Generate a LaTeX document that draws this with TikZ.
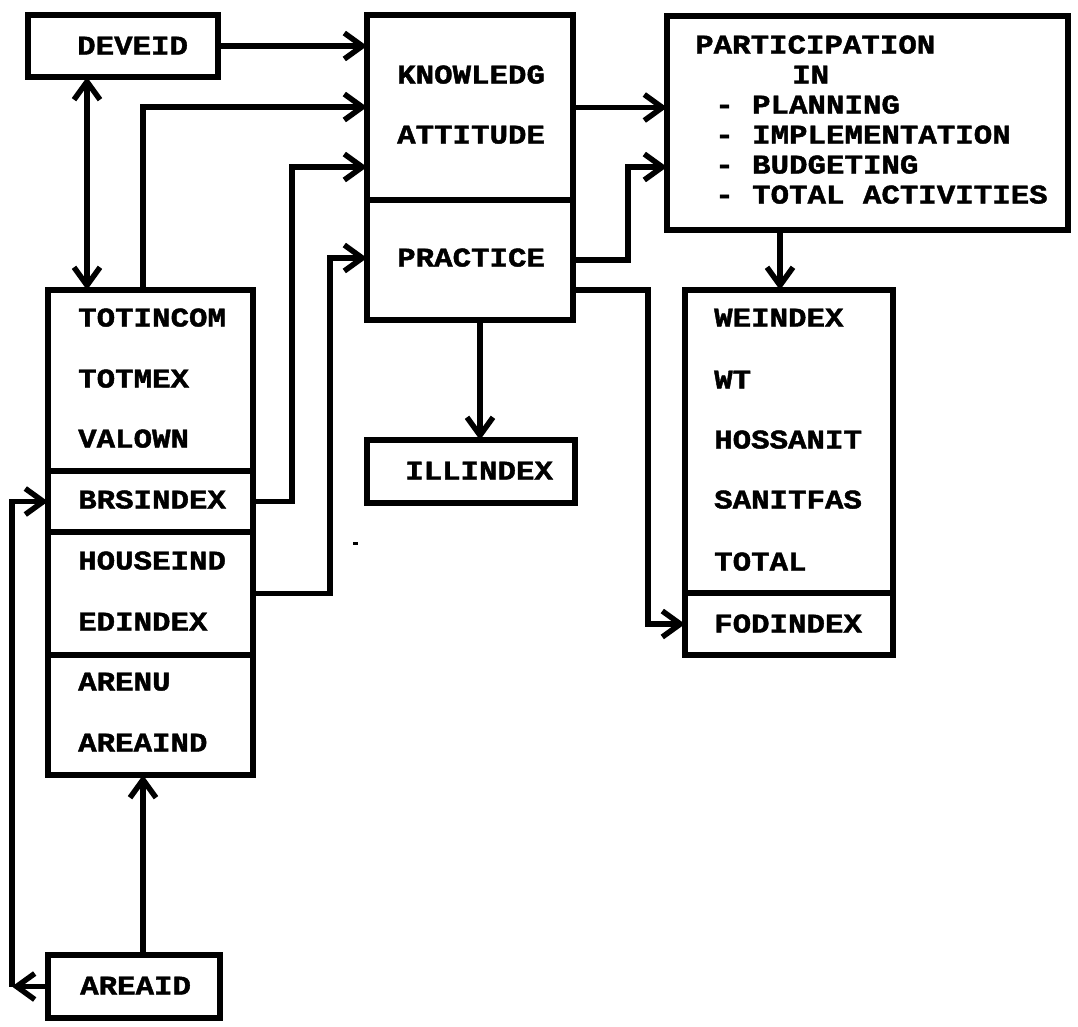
\documentclass[tikz,border=0pt]{standalone}
\usepackage{fontspec}
\newfontfamily\boxfont{Liberation Mono}[FakeStretch=1.14, FakeBold=1.6]
\usetikzlibrary{arrows.meta}
\begin{document}
\begin{tikzpicture}[x=1pt,y=-1pt,
  box/.style={draw, line width=6.5pt, rectangle, inner sep=0pt, outer sep=0pt, anchor=north west},
  lbl/.style={anchor=west, inner sep=0pt, text height=17pt, text depth=0pt,
              font=\boxfont\bfseries\fontsize{27}{30}\selectfont},
  barb/.tip={Straight Barb[length=18pt,width=26pt]},
  conn/.style={line width=5.5pt, line join=miter, -barb},
  biconn/.style={line width=5.5pt, barb-barb},
]
\fill[white] (0,0) rectangle (1078,1026);
\useasboundingbox (0,0) rectangle (1078,1026);

% ---- boxes ----
\node[box, minimum width=190pt, minimum height=62pt] (deveid) at (28,15) {};
\node[box, minimum width=206pt, minimum height=185pt] (know) at (367,15) {};
\node[box, minimum width=206pt, minimum height=120pt] (prac) at (367,200) {};
\node[box, minimum width=401pt, minimum height=214pt] (part) at (667,16) {};
\node[box, minimum width=205pt, minimum height=181pt] (s1) at (48,290) {};
\node[box, minimum width=205pt, minimum height=61pt] (s2) at (48,471) {};
\node[box, minimum width=205pt, minimum height=123pt] (s3) at (48,532) {};
\node[box, minimum width=205pt, minimum height=120pt] (s4) at (48,655) {};
\node[box, minimum width=208pt, minimum height=63pt] (ill) at (367,440) {};
\node[box, minimum width=208pt, minimum height=303pt] (we) at (685,290) {};
\node[box, minimum width=208pt, minimum height=62pt] (fod) at (685,593) {};
\node[box, minimum width=172pt, minimum height=63pt] (areaid) at (48,955) {};

% ---- labels ----
\node[lbl] (l-deveid) at (77,46) {DEVEID};
\node[lbl] (l-know) at (397,75) {KNOWLEDG};
\node[lbl] (l-att) at (397,135) {ATTITUDE};
\node[lbl] (l-prac) at (397,258) {PRACTICE};
\node[lbl] (l-p1) at (695,45) {PARTICIPATION};
\node[lbl] (l-p2) at (792,75) {IN};
\node[lbl] (l-p3) at (715,105) {- PLANNING};
\node[lbl] (l-p4) at (715,135) {- IMPLEMENTATION};
\node[lbl] (l-p5) at (715,165) {- BUDGETING};
\node[lbl] (l-p6) at (715,195) {- TOTAL ACTIVITIES};
\node[lbl] (l-totincom) at (78,318) {TOTINCOM};
\node[lbl] (l-totmex) at (78,379) {TOTMEX};
\node[lbl] (l-valown) at (78,439) {VALOWN};
\node[lbl] (l-brs) at (78,500) {BRSINDEX};
\node[lbl] (l-house) at (78,561) {HOUSEIND};
\node[lbl] (l-ed) at (78,622) {EDINDEX};
\node[lbl] (l-arenu) at (78,682) {ARENU};
\node[lbl] (l-areaind) at (78,743) {AREAIND};
\node[lbl] (l-ill) at (405,471) {ILLINDEX};
\node[lbl] (l-we) at (714,318) {WEINDEX};
\node[lbl] (l-wt) at (714,380) {WT};
\node[lbl] (l-hos) at (714,440) {HOSSANIT};
\node[lbl] (l-san) at (714,500) {SANITFAS};
\node[lbl] (l-total) at (714,562) {TOTAL};
\node[lbl] (l-fod) at (714,624) {FODINDEX};
\node[lbl] (l-areaid) at (80,986) {AREAID};

% ---- routing points ----
\coordinate (cA) at (87,0);
\coordinate (cB) at (143,107);
\coordinate (cC) at (292,167);
\coordinate (cD) at (330,258);
\coordinate (cE) at (628,167);
\coordinate (cF) at (648,290);
\coordinate (cG) at (780,0);
\coordinate (cH) at (480,0);
\coordinate (cI) at (143,0);
\coordinate (cJ) at (12,0);

% ---- connectors ----
\draw[conn] (deveid.east) -- (deveid.east -| know.west);
\draw[biconn] (cA |- deveid.south) -- (cA |- s1.north);
\draw[conn] (cB |- s1.north) -- (cB) -- (cB -| know.west);
\draw[conn] (s2.east) -| (cC) -- (cC -| know.west);
\draw[conn] (s3.east) -| (cD) -- (cD -| prac.west);
\draw[conn] (know.east) -- (know.east -| part.west);
\draw[conn] (prac.east) -| (cE) -- (cE -| part.west);
\draw[conn] (cF -| prac.east) -- (cF) |- (fod.west);
\draw[conn] (cG |- part.south) -- (cG |- we.north);
\draw[conn] (cH |- prac.south) -- (cH |- ill.north);
\draw[conn] (cI |- areaid.north) -- (cI |- s4.south);
\draw[conn] (areaid.west) -- (cJ |- areaid.west);
\draw[conn] (cJ |- areaid.west) |- (s2.west);

% small mark
\fill (353,542) rectangle (358,545);
\end{tikzpicture}
\end{document}
